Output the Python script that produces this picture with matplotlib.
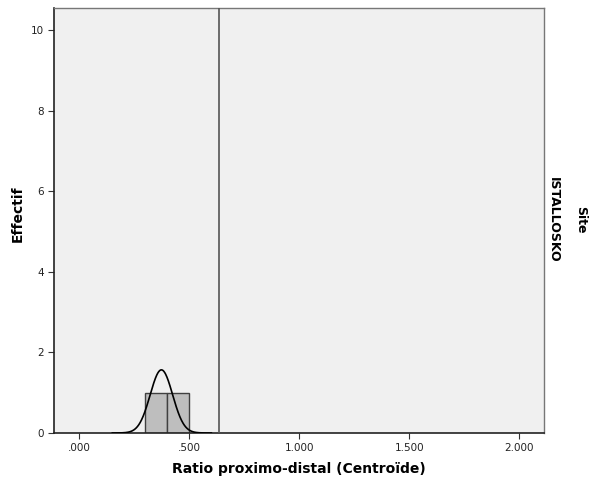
import numpy as np
import matplotlib
matplotlib.use("Agg")
import matplotlib.pyplot as plt

# Data
values = [0.337, 0.409]
bin_edges = [0.3, 0.4, 0.5]
ref_line = 0.635
x_ticks = [0.0, 0.5, 1.0, 1.5, 2.0]
x_ticklabels = [".000", ".500", "1.000", "1.500", "2.000"]
y_ticks = [0, 2, 4, 6, 8, 10]
site = "ISTALLOSKO"

fig = plt.figure(figsize=(5.92, 4.8), dpi=100)
ax = fig.add_axes([0.092, 0.098, 0.827, 0.885])
ax.set_facecolor("#F0F0F0")

ax.hist(values, bins=bin_edges, color="#BEBEBE", edgecolor="#404040", linewidth=1.0, zorder=2)

mu = np.mean(values)
sd = np.std(values, ddof=1)
bw = bin_edges[1] - bin_edges[0]
xs = np.linspace(0.15, 0.6, 300)
ys = len(values) * bw * np.exp(-0.5 * ((xs - mu) / sd) ** 2) / (sd * np.sqrt(2 * np.pi))
ax.plot(xs, ys, color="black", linewidth=1.2, zorder=3)

ax.axvline(ref_line, color="#555555", linewidth=1.2, zorder=3)

ax.set_xlim(-0.113, 2.112)
ax.set_ylim(0, 10.55)
ax.set_xticks(x_ticks)
ax.set_xticklabels(x_ticklabels)
ax.set_yticks(y_ticks)
ax.tick_params(axis="both", labelsize=7.5, length=4, width=0.8, colors="#333333", labelcolor="#222222")

for s in ["left", "bottom"]:
    ax.spines[s].set_color("#222222")
    ax.spines[s].set_linewidth(1.2)
for s in ["top", "right"]:
    ax.spines[s].set_color("#777777")
    ax.spines[s].set_linewidth(1.0)

ax.set_xlabel("Ratio proximo-distal (Centroïde)", fontsize=10, fontweight="bold", labelpad=6)
fig.text(0.030, 0.555, "Effectif", rotation=90, fontsize=10, fontweight="bold", ha="center", va="center")

fig.text(0.935, 0.542, site, rotation=-90, fontsize=9, fontweight="bold", ha="center", va="center")
fig.text(0.98, 0.542, "Site", rotation=-90, fontsize=9, fontweight="bold", ha="center", va="center")

fig.savefig("out.png", dpi=100)
